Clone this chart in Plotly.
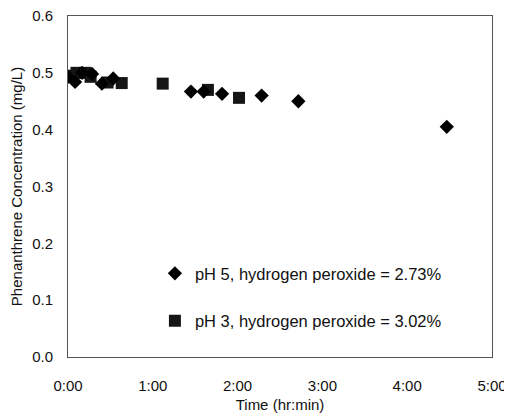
import plotly.graph_objects as go

# Time in minutes since start, concentration in mg/L
ph5_time = [0, 5, 10, 17, 24, 32, 87, 96, 109, 137, 163, 268]
ph5_conc = [0.493, 0.484, 0.500, 0.498, 0.481, 0.490, 0.467, 0.467, 0.463, 0.460, 0.450, 0.405]

ph3_time = [0, 6, 12, 16, 28, 38, 67, 99, 121]
ph3_conc = [0.495, 0.500, 0.500, 0.493, 0.483, 0.482, 0.481, 0.470, 0.456]

x_tickvals = [0, 60, 120, 180, 240, 300]
x_ticktext = ["0:00", "1:00", "2:00", "3:00", "4:00", "5:00"]
y_tickvals = [0.0, 0.1, 0.2, 0.3, 0.4, 0.5, 0.6]
y_ticktext = ["0.0", "0.1", "0.2", "0.3", "0.4", "0.5", "0.6"]

name5 = "pH 5, hydrogen peroxide = 2.73%"
name3 = "pH 3, hydrogen peroxide = 3.02%"

fig = go.Figure()
fig.add_trace(go.Scatter(
    x=ph3_time, y=ph3_conc, mode="markers", name=name3, legendgroup="b",
    legendrank=2,
    marker=dict(symbol="square", size=12, color="#151515"),
))
fig.add_trace(go.Scatter(
    x=ph5_time, y=ph5_conc, mode="markers", name=name5, legendgroup="a",
    legendrank=1,
    marker=dict(symbol="diamond", size=11, color="#000000"),
))

font_family = "Liberation Sans, Arial, sans-serif"
# page body has an 8px margin, so the figure is sized 504x408
fig.update_layout(
    width=504, height=408,
    margin=dict(l=60, r=20, t=8, b=59, autoexpand=False),
    paper_bgcolor="white", plot_bgcolor="white",
    font=dict(family=font_family, size=15, color="#111111"),
    showlegend=True,
    legend=dict(
        x=0.205, y=0.296, xanchor="left", yanchor="top",
        bgcolor="rgba(0,0,0,0)", borderwidth=0,
        font=dict(size=16.5, color="#111111"),
        tracegroupgap=23, traceorder="grouped",
        itemwidth=30,
    ),
    xaxis=dict(
        range=[0, 300], tickvals=x_tickvals, ticktext=x_ticktext,
        showgrid=False, zeroline=False, automargin=False,
        showline=True, linecolor="#555555", linewidth=1, mirror=True,
        ticks="", ticklen=0, ticklabelstandoff=15, ticklabeloverflow="allow",
        title=dict(text="Time (hr:min)", font=dict(size=15), standoff=6),
    ),
    yaxis=dict(
        range=[0, 0.6], tickvals=y_tickvals, ticktext=y_ticktext,
        showgrid=False, zeroline=False, automargin=False,
        showline=True, linecolor="#555555", linewidth=1, mirror=True,
        ticks="", ticklen=0, ticklabelstandoff=11, ticklabeloverflow="allow",
        title=dict(text="Phenanthrene Concentration (mg/L)", font=dict(size=15), standoff=12),
    ),
)

fig.write_html("out.html")
